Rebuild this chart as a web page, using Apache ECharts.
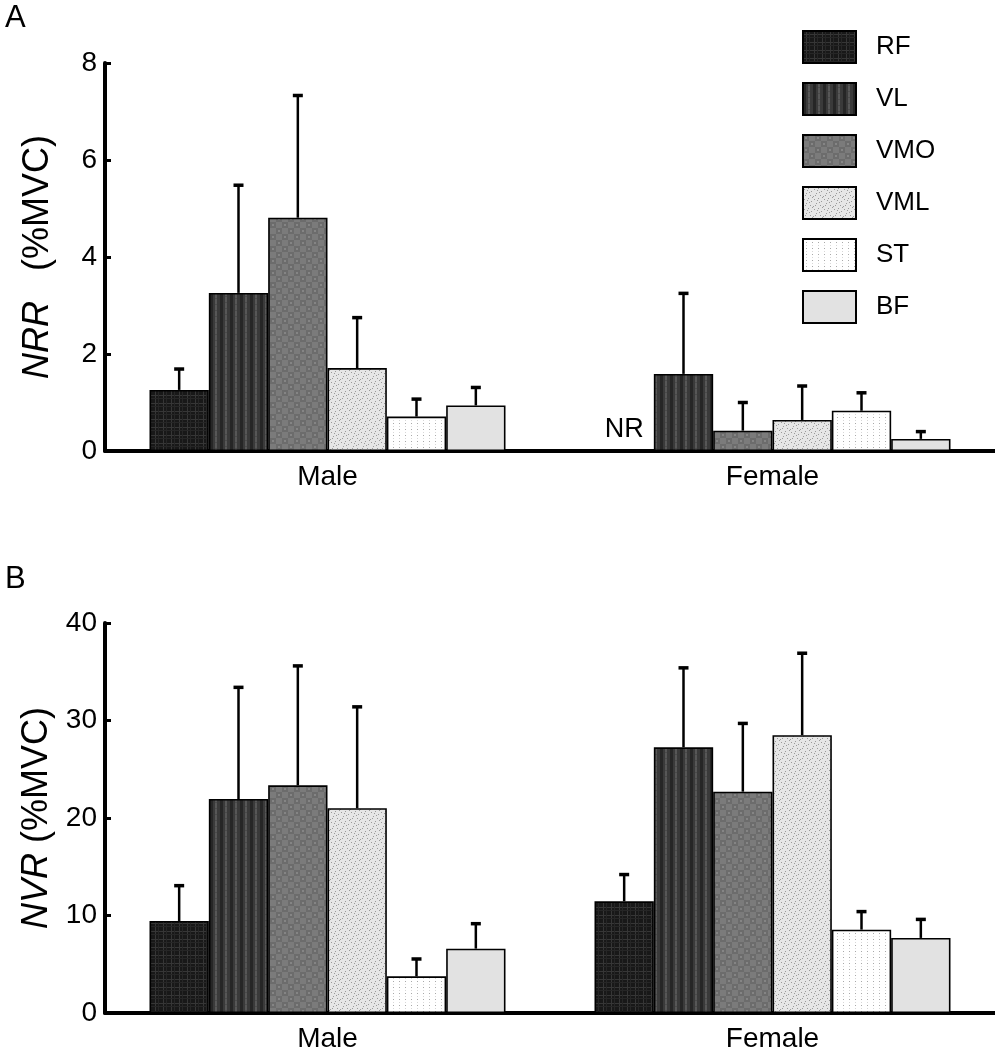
<!DOCTYPE html>
<html>
<head>
<meta charset="utf-8">
<script src="https://cdn.jsdelivr.net/npm/echarts@6/dist/echarts.min.js"></script>
<style>
html, body { margin: 0; padding: 0; background: #fff; }
#chart { width: 995px; height: 1050px; }
</style>
</head>
<body>
<div id="chart"></div>
<script>
/* ============================================================
   NRR / NVR 柱状图（两面板，A 上 B 下）
   6 块肌肉 × 男女两组，误差线只画上半段
   ============================================================ */

// ---- 数据 ----
var groups  = ["Male", "Female"];
var muscles = ["RF", "VL", "VMO", "VML", "ST", "BF"];

// A: NRR (%MVC)  均值 / SD，顺序同 muscles
var nrrMale     = [1.26, 3.26, 4.81, 1.71, 0.71, 0.94];
var nrrMaleSd   = [0.43, 2.22, 2.52, 1.04, 0.36, 0.37];
var nrrFemale   = [null, 1.59, 0.42, 0.64, 0.83, 0.25];   // RF 女：NR
var nrrFemaleSd = [null, 1.66, 0.58, 0.70, 0.37, 0.15];

// B: NVR (%MVC)
var nvrMale     = [9.44, 21.95, 23.35, 21.0, 3.76, 6.6];
var nvrMaleSd   = [3.62, 11.45, 12.25, 10.4, 1.78, 2.56];
var nvrFemale   = [11.45, 27.25, 22.7, 28.5, 8.55, 7.7];
var nvrFemaleSd = [2.75, 8.15, 7.0, 8.4, 1.85, 1.9];

// 轴刻度 [min, max, interval]
var nrrTicks = [0, 8, 2];
var nvrTicks = [0, 40, 10];

var FONT = "'Liberation Sans', Arial, sans-serif";

// ---- 纹理填充 ----
function makeTile(w, h, draw) {
  var c = document.createElement("canvas");
  c.width = w; c.height = h;
  draw(c.getContext("2d"));
  return { image: c, repeat: "repeat" };
}
function dots(ctx, color, pts) {
  ctx.fillStyle = color;
  pts.forEach(function(p) { ctx.fillRect(p[0], p[1], 1, 1); });
}

var fills = [
  // RF: 深色格纹
  makeTile(8, 8, function(ctx) {
    ctx.fillStyle = "#181818"; ctx.fillRect(0, 0, 8, 8);
    ctx.fillStyle = "#363636"; ctx.fillRect(0, 3, 8, 1); ctx.fillRect(3, 0, 1, 8);
    ctx.fillStyle = "#262626"; ctx.fillRect(0, 6, 8, 1); ctx.fillRect(6, 0, 1, 8);
  }),
  // VL: 竖条纹
  makeTile(20, 6, function(ctx) {
    ctx.fillStyle = "#3a3a3a"; ctx.fillRect(0, 0, 20, 6);
    ctx.fillStyle = "#262626"; ctx.fillRect(0, 0, 3, 6); ctx.fillRect(10, 0, 3, 6);
    ctx.fillStyle = "#575757"; ctx.fillRect(5, 0, 2, 6); ctx.fillRect(15, 0, 2, 6);
    ctx.fillStyle = "#4a4a4a"; ctx.fillRect(5, 2, 2, 1); ctx.fillRect(15, 4, 2, 1);
  }),
  // VMO: 中灰棋盘
  makeTile(12, 12, function(ctx) {
    ctx.fillStyle = "#7b7b7b"; ctx.fillRect(0, 0, 12, 12);
    ctx.fillStyle = "#6c6c6c"; ctx.fillRect(0, 0, 6, 6); ctx.fillRect(6, 6, 6, 6);
    ctx.fillStyle = "#858585"; ctx.fillRect(2, 2, 2, 2); ctx.fillRect(8, 8, 2, 2);
  }),
  // VML: 浅灰点画
  makeTile(10, 10, function(ctx) {
    ctx.fillStyle = "#e6e6e6"; ctx.fillRect(0, 0, 10, 10);
    dots(ctx, "#9a9a9a", [[1,2],[5,1],[8,4],[3,6],[7,8],[0,9],[4,3],[9,0],[6,5],[2,8]]);
  }),
  // ST: 白底点阵
  makeTile(6, 6, function(ctx) {
    ctx.fillStyle = "#ffffff"; ctx.fillRect(0, 0, 6, 6);
    dots(ctx, "#a8a8a8", [[3,3]]);
    dots(ctx, "#d8d8d8", [[3,0]]);
  }),
  // BF: 纯浅灰
  "#e2e2e2"
];

// ---- 柱 ----
function barSeries(xi, male, female) {
  return muscles.map(function(m, i) {
    var data = [male[i], female[i]].map(function(v) {
      if (v !== null) return v;
      return {
        value: 0,
        itemStyle: { borderWidth: 0 },
        label: { show: true, position: "top", distance: 8, formatter: "NR",
                 fontSize: 27, color: "#000", fontFamily: FONT }
      };
    });
    return {
      type: "bar", name: m,
      xAxisIndex: xi, yAxisIndex: xi,
      data: data,
      barGap: "0%", barCategoryGap: "20%",
      itemStyle: { color: fills[i], borderColor: "#000", borderWidth: 1.6 },
      emphasis: { disabled: true },
      silent: true, z: 2
    };
  });
}

// ---- 误差线（只画向上） ----
function errSeries(xi, male, maleSd, female, femaleSd) {
  var data = [];
  [[male, maleSd], [female, femaleSd]].forEach(function(pair, g) {
    pair[0].forEach(function(v, i) {
      if (v === null) return;
      data.push([g, v, v + pair[1][i], i]);
    });
  });
  return {
    type: "custom",
    xAxisIndex: xi, yAxisIndex: xi,
    data: data,
    encode: { x: 0, y: [1, 2] },
    silent: true, z: 3,
    renderItem: function(params, api) {
      var band = api.size([1, 0])[0];
      var bw = band * 0.8 / muscles.length;
      var cx = api.coord([api.value(0), 0])[0] - band * 0.4 + bw * (api.value(3) + 0.5);
      var y0 = api.coord([api.value(0), api.value(1)])[1];
      var y1 = api.coord([api.value(0), api.value(2)])[1];
      return {
        type: "group",
        children: [
          { type: "line", shape: { x1: cx, y1: y0, x2: cx, y2: y1 },
            style: { stroke: "#000", lineWidth: 2.5 } },
          { type: "line", shape: { x1: cx - 5, y1: y1, x2: cx + 5, y2: y1 },
            style: { stroke: "#000", lineWidth: 3.5 } }
        ]
      };
    }
  };
}

// ---- 轴 ----
function xAxisOf(gi) {
  return {
    type: "category", gridIndex: gi, data: groups,
    axisLine: { show: true, lineStyle: { color: "#000", width: 4 } },
    axisTick: { show: false },
    axisLabel: { fontSize: 28, color: "#000", fontFamily: FONT, margin: 12 },
    splitLine: { show: false }
  };
}
function yAxisOf(gi, ticks, tag) {
  return {
    type: "value", gridIndex: gi,
    min: ticks[0], max: ticks[1], interval: ticks[2],
    name: "{i|" + tag + "}" + (gi === 0 ? "   " : " ") + "(%MVC)",
    nameLocation: "middle", nameRotate: 90, nameGap: 49,
    nameTextStyle: {
      fontSize: 36, color: "#000", fontFamily: FONT,
      rich: { i: { fontSize: 36, fontStyle: "italic", color: "#000", fontFamily: FONT } }
    },
    axisLine: { show: true, lineStyle: { color: "#000", width: 4 } },
    axisTick: { show: true, inside: true, length: 6, lineStyle: { color: "#000", width: 3 } },
    axisLabel: { fontSize: 28, color: "#000", fontFamily: FONT, margin: 8 },
    splitLine: { show: false }
  };
}

var chart = echarts.init(document.getElementById("chart"), null, { renderer: "canvas" });

chart.setOption({
  backgroundColor: "#fff",
  animation: false,
  title: [
    { text: "A", left: 0, top: -2,
      textStyle: { fontSize: 31, fontWeight: "normal", color: "#000", fontFamily: FONT } },
    { text: "B", left: 0, top: 559,
      textStyle: { fontSize: 31, fontWeight: "normal", color: "#000", fontFamily: FONT } }
  ],
  legend: {
    data: muscles,
    orient: "vertical",
    left: 797, top: 25,
    itemWidth: 53, itemHeight: 32, itemGap: 18,
    icon: "rect",
    itemStyle: { borderColor: "#000", borderWidth: 2 },
    textStyle: { fontSize: 26, color: "#000", fontFamily: FONT, padding: [0, 0, 0, 15] },
    selectedMode: false
  },
  grid: [
    { left: 105, top: 63, width: 890, height: 388, outerBoundsMode: "none" },
    { left: 105, top: 623, width: 890, height: 390, outerBoundsMode: "none" }
  ],
  xAxis: [xAxisOf(0), xAxisOf(1)],
  yAxis: [yAxisOf(0, nrrTicks, "NRR"), yAxisOf(1, nvrTicks, "NVR")],
  series: []
    .concat(barSeries(0, nrrMale, nrrFemale))
    .concat(barSeries(1, nvrMale, nvrFemale))
    .concat([errSeries(0, nrrMale, nrrMaleSd, nrrFemale, nrrFemaleSd),
             errSeries(1, nvrMale, nvrMaleSd, nvrFemale, nvrFemaleSd)])
});
</script>
</body>
</html>
